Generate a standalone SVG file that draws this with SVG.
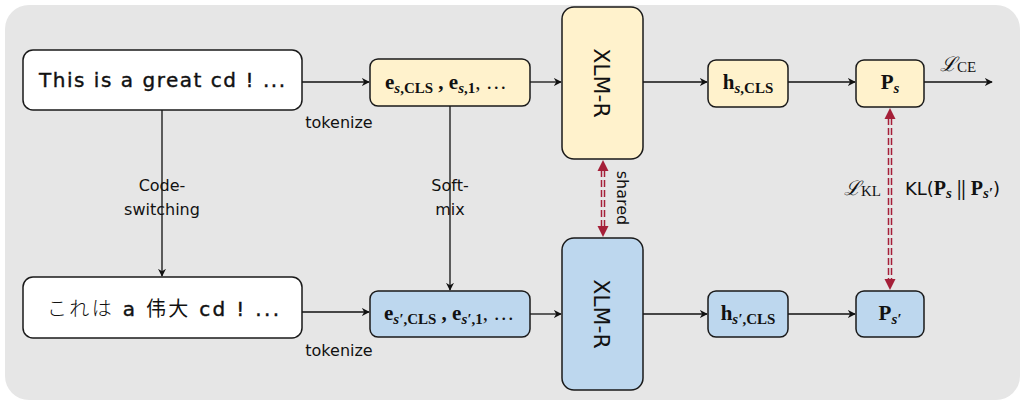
<svg xmlns="http://www.w3.org/2000/svg" width="1023" height="405" viewBox="0 0 1023 405">
<style>
.bg{fill:#e6e6e6;stroke:none}
.box{stroke:#1a1a1a;stroke-width:1.5}
.w{fill:#ffffff}
.y{fill:#fff2cc}
.b{fill:#bdd7ee}
.t{font-family:"DejaVu Sans","Noto Sans CJK JP",sans-serif;fill:#111}
.bt{stroke:#111;stroke-width:0.4}
.m{font-family:"Liberation Serif","DejaVu Serif",serif;fill:#111;font-weight:bold}
.sub{font-style:italic}
.scr{font-family:"DejaVu Serif",serif;font-style:italic;fill:#111}
.ln{stroke:#111;stroke-width:1.3;fill:none}
.red{stroke:#a51f38;stroke-width:4.5;stroke-dasharray:7 3;fill:none}
.redi{stroke:#e6e6e6;stroke-width:1.5;stroke-dasharray:7 3;fill:none}
</style>
<defs>
<marker id="ah" viewBox="0 0 10 10" refX="9" refY="5" markerWidth="8" markerHeight="8" markerUnits="userSpaceOnUse" orient="auto">
<path d="M0,0 L10,5 L0,10 L3,5 Z" fill="#111"/>
</marker>
<path id="rh" d="M0,0 L-5.5,11 L5.5,11 Z" fill="#a51f38"/>
</defs>
<rect class="bg" x="5" y="5" width="1015" height="395" rx="24"/>

<g id="connectors">
<line class="ln" x1="302" y1="82" x2="369" y2="82" marker-end="url(#ah)"/>
<line class="ln" x1="302" y1="312" x2="369" y2="312" marker-end="url(#ah)"/>
<line class="ln" x1="530" y1="82" x2="561" y2="82" marker-end="url(#ah)"/>
<line class="ln" x1="530" y1="314" x2="561" y2="314" marker-end="url(#ah)"/>
<line class="ln" x1="643" y1="82" x2="707" y2="82" marker-end="url(#ah)"/>
<line class="ln" x1="643" y1="314" x2="707" y2="314" marker-end="url(#ah)"/>
<line class="ln" x1="788" y1="82" x2="855" y2="82" marker-end="url(#ah)"/>
<line class="ln" x1="788" y1="314" x2="855" y2="314" marker-end="url(#ah)"/>
<line class="ln" x1="924" y1="82" x2="992" y2="82" marker-end="url(#ah)"/>
<line class="ln" x1="162" y1="110" x2="162" y2="276" marker-end="url(#ah)"/>
<line class="ln" x1="450" y1="106" x2="450" y2="290" marker-end="url(#ah)"/>
<line class="red" x1="603" y1="170" x2="603" y2="228"/>
<line class="redi" x1="603" y1="170" x2="603" y2="228"/>
<use href="#rh" x="603" y="160"/>
<use href="#rh" transform="translate(603,237) rotate(180)"/>
<line class="red" x1="890" y1="118" x2="890" y2="280"/>
<line class="redi" x1="890" y1="118" x2="890" y2="280"/>
<use href="#rh" x="890" y="108"/>
<use href="#rh" transform="translate(890,290) rotate(180)"/>
<text class="t" x="339" y="128" font-size="16" text-anchor="middle">tokenize</text>
<text class="t" x="339" y="356" font-size="16" text-anchor="middle">tokenize</text>
<text class="t" x="162" y="191" font-size="16" text-anchor="middle">Code-</text>
<text class="t" x="162" y="215" font-size="16" text-anchor="middle">switching</text>
<text class="t" x="450" y="191" font-size="16" text-anchor="middle">Soft-</text>
<text class="t" x="450" y="215" font-size="16" text-anchor="middle">mix</text>
<text class="t" font-size="16" text-anchor="middle" transform="translate(617,198) rotate(90)">shared</text>
<text class="scr" x="940" y="71" font-size="20">ℒ<tspan font-family="Liberation Serif" font-style="normal" font-size="15" dy="1">CE</tspan></text>
<text class="scr" x="844" y="195" font-size="20">ℒ<tspan font-family="Liberation Serif" font-style="normal" font-size="15" dy="1">KL</tspan></text>
<text x="905" y="195" font-size="20"><tspan class="t" font-size="18">KL(</tspan><tspan class="m">P</tspan><tspan class="m sub" font-size="15" dy="3">s</tspan><tspan class="m" dy="-3" font-weight="normal"> || </tspan><tspan class="m">P</tspan><tspan class="m sub" font-size="15" dy="3">s′</tspan><tspan class="t" font-size="18" dy="-3">)</tspan></text>
</g>

<g id="src">
<rect class="box w" x="23" y="50" width="279" height="60" rx="10"/>
<text class="t bt" x="162" y="87" font-size="20" text-anchor="middle" textLength="246" lengthAdjust="spacing">This is a great cd ! ...</text>
</g>
<g id="cs">
<rect class="box w" x="23" y="277" width="279" height="61" rx="10"/>
<text class="t" x="163" y="316" font-size="20" text-anchor="middle" textLength="232" lengthAdjust="spacing"><tspan font-family="Noto Sans CJK JP" font-weight="300">これは</tspan> <tspan class="bt">a</tspan> <tspan font-family="Noto Sans CJK SC">伟大</tspan> <tspan class="bt">cd ! ...</tspan></text>
</g>
<g id="emb-s">
<rect class="box y" x="370" y="59" width="160" height="47" rx="8"/>
<text class="m" x="385" y="89" font-size="21">e<tspan class="sub" font-size="15" dy="4">s</tspan><tspan font-size="15">,CLS</tspan><tspan dy="-4"> , e</tspan><tspan class="sub" font-size="15" dy="4">s</tspan><tspan font-size="15">,1</tspan><tspan dy="-4" font-weight="normal">, …</tspan></text>
</g>
<g id="emb-t">
<rect class="box b" x="370" y="291" width="160" height="46" rx="8"/>
<text class="m" x="384" y="320" font-size="21">e<tspan class="sub" font-size="15" dy="4">s′</tspan><tspan font-size="15">,CLS</tspan><tspan dy="-4"> , e</tspan><tspan class="sub" font-size="15" dy="4">s′</tspan><tspan font-size="15">,1</tspan><tspan dy="-4" font-weight="normal">, …</tspan></text>
</g>
<g id="xlmr-s">
<rect class="box y" x="562" y="7" width="81" height="152" rx="12"/>
<text class="t" font-size="22" text-anchor="middle" transform="translate(594,83) rotate(90)">XLM-R</text>
</g>
<g id="xlmr-t">
<rect class="box b" x="562" y="238" width="81" height="152" rx="12"/>
<text class="t" font-size="22" text-anchor="middle" transform="translate(594,314) rotate(90)">XLM-R</text>
</g>
<g id="h-s">
<rect class="box y" x="708" y="60" width="80" height="47" rx="8"/>
<text class="m" x="748" y="89" font-size="21" text-anchor="middle">h<tspan class="sub" font-size="15" dy="4">s</tspan><tspan font-size="15">,CLS</tspan></text>
</g>
<g id="h-t">
<rect class="box b" x="708" y="291" width="80" height="46" rx="8"/>
<text class="m" x="748" y="320" font-size="21" text-anchor="middle">h<tspan class="sub" font-size="15" dy="4">s′</tspan><tspan font-size="15">,CLS</tspan></text>
</g>
<g id="p-s">
<rect class="box y" x="856" y="60" width="68" height="47" rx="8"/>
<text class="m" x="890" y="89" font-size="21" text-anchor="middle">P<tspan class="sub" font-size="15" dy="4">s</tspan></text>
</g>
<g id="p-t">
<rect class="box b" x="856" y="291" width="68" height="46" rx="8"/>
<text class="m" x="890" y="320" font-size="21" text-anchor="middle">P<tspan class="sub" font-size="15" dy="4">s′</tspan></text>
</g>
</svg>
